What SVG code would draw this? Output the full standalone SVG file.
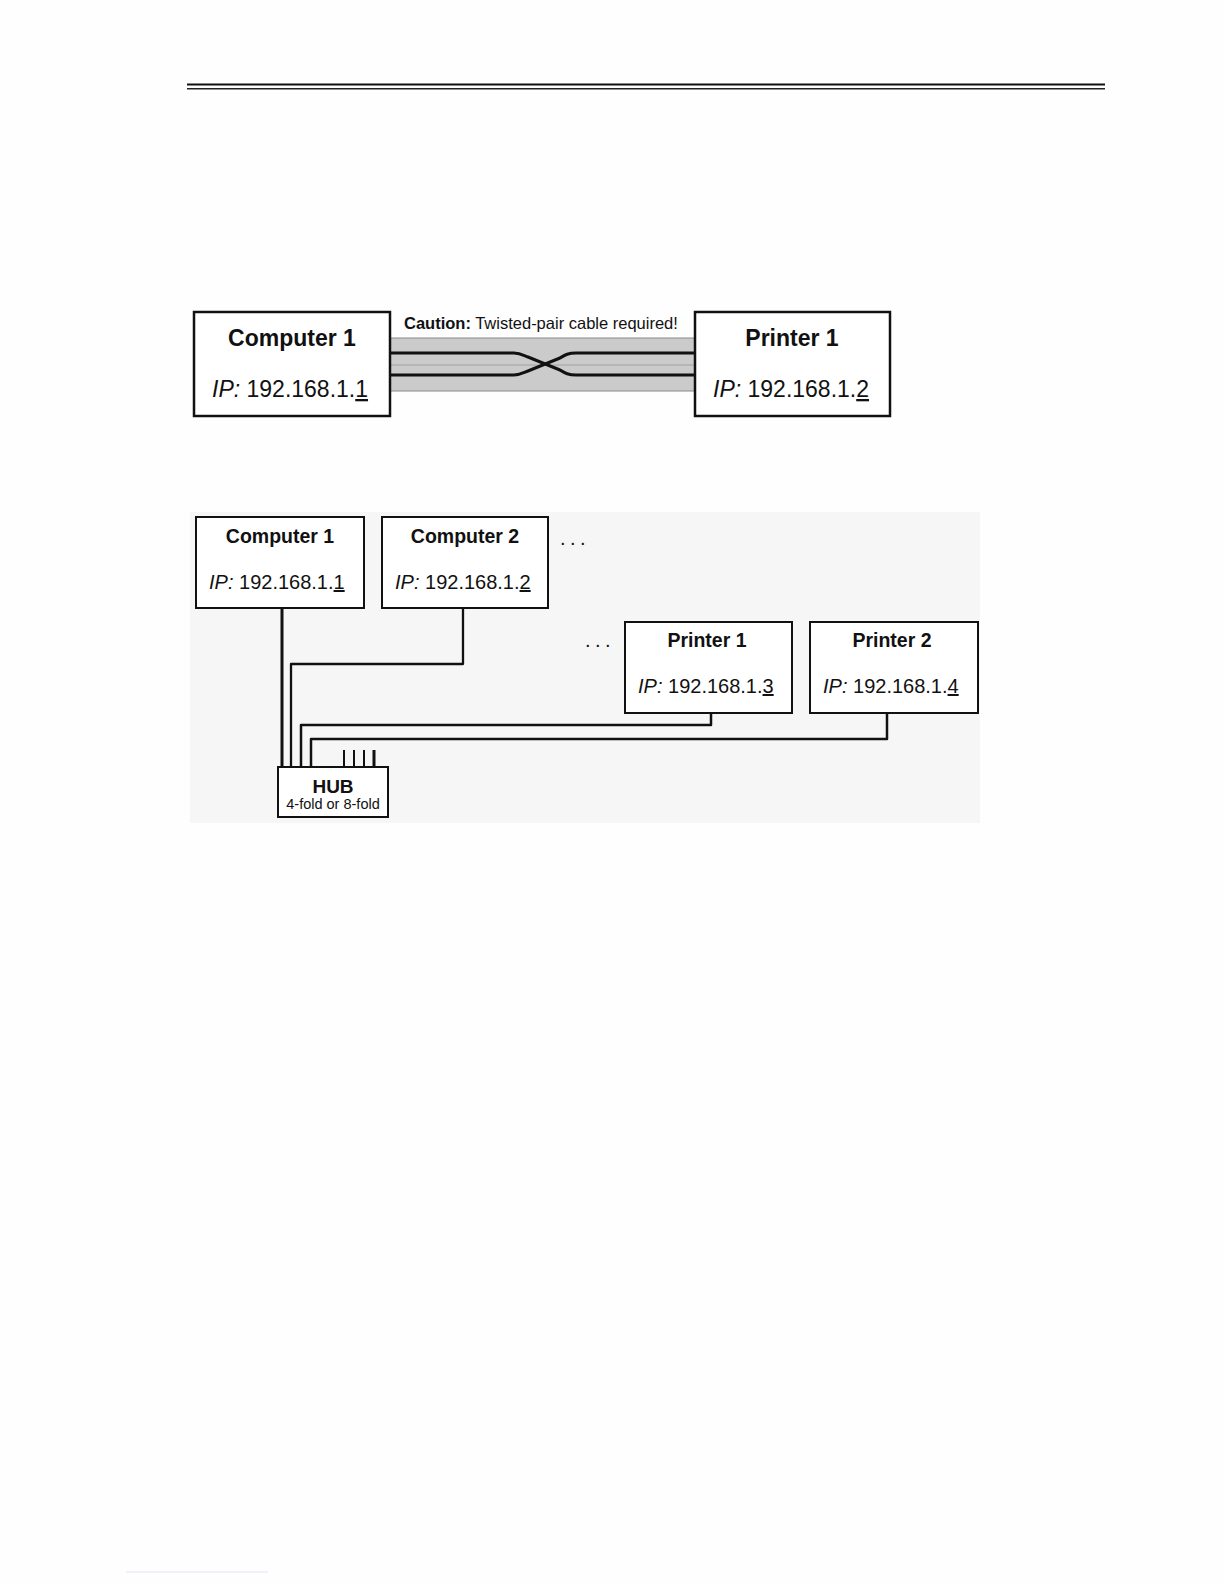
<svg xmlns="http://www.w3.org/2000/svg" width="1224" height="1584" viewBox="0 0 1224 1584">
<style>
.box{fill:#ffffff;stroke:#111;stroke-width:2.5}
.box2{fill:#ffffff;stroke:#111;stroke-width:2}
.t{font-family:"Liberation Sans",Arial,sans-serif;fill:#111}
.b{font-weight:bold}
.w{fill:none;stroke:#111;stroke-linejoin:round}
.u{text-decoration:underline}
</style>
<rect width="1224" height="1584" fill="#fefefe"/>
<g id="header">
<line x1="187" y1="84.5" x2="1105" y2="84.5" stroke="#111" stroke-width="2.2"/>
<line x1="187" y1="88.7" x2="1105" y2="88.7" stroke="#222" stroke-width="1.4"/>
</g>
<g id="footer-line">
<line x1="126" y1="1572" x2="268" y2="1572" stroke="#dfe4f2" stroke-width="1"/>
</g>

<!-- Top diagram -->
<g id="connectors-top">
<rect x="390" y="338" width="305" height="53" fill="#cbcbcb"/>
<line x1="390" y1="338" x2="695" y2="338" stroke="#8a8a8a" stroke-width="1.2"/>
<line x1="390" y1="365" x2="695" y2="365" stroke="#a0a0a0" stroke-width="1"/>
<line x1="390" y1="391" x2="695" y2="391" stroke="#8a8a8a" stroke-width="1.2"/>
<path class="w" stroke-width="3" d="M390 353 H514 C520 353 523 355 528 357 L560 370 C565 373 568 375 576 375 H695"/>
<path class="w" stroke-width="3" d="M390 375 H514 C520 375 523 373 528 371 L560 358 C565 355 568 353 576 353 H695"/>
<text class="t" x="404" y="329" font-size="16.5"><tspan class="b">Caution:</tspan> Twisted-pair cable required!</text>
</g>
<g id="top-computer1">
<rect class="box" x="194" y="312" width="196" height="104"/>
<text class="t b" x="292" y="346" font-size="23" text-anchor="middle">Computer 1</text>
<text class="t" x="212" y="397" font-size="23"><tspan font-style="italic">IP:</tspan> 192.168.1.<tspan class="u">1</tspan></text>
</g>
<g id="top-printer1">
<rect class="box" x="695" y="312" width="195" height="104"/>
<text class="t b" x="792" y="346" font-size="23" text-anchor="middle">Printer 1</text>
<text class="t" x="713" y="397" font-size="23"><tspan font-style="italic">IP:</tspan> 192.168.1.<tspan class="u">2</tspan></text>
</g>

<!-- Bottom diagram -->
<rect x="190" y="512" width="790" height="311" fill="#f6f6f6"/>
<g id="connectors">
<path class="w" stroke-width="3" d="M282 608 V767"/>
<path class="w" stroke-width="2.3" d="M463 608 V664 H291 V767"/>
<path class="w" stroke-width="2.5" d="M711 713 V725 H301 V767"/>
<path class="w" stroke-width="2.5" d="M887 713 V739 H311 V767"/>
<path class="w" stroke-width="2" d="M344 750 V767 M354 750 V767 M364 750 V767"/>
<path class="w" stroke-width="3" d="M374 750 V767"/>
</g>
<g id="computer1">
<rect class="box2" x="196" y="517" width="168" height="91"/>
<text class="t b" x="280" y="543" font-size="19.5" text-anchor="middle">Computer 1</text>
<text class="t" x="209" y="589" font-size="20"><tspan font-style="italic">IP:</tspan> 192.168.1.<tspan class="u">1</tspan></text>
</g>
<g id="computer2">
<rect class="box2" x="382" y="517" width="166" height="91"/>
<text class="t b" x="465" y="543" font-size="19.5" text-anchor="middle">Computer 2</text>
<text class="t" x="395" y="589" font-size="20"><tspan font-style="italic">IP:</tspan> 192.168.1.<tspan class="u">2</tspan></text>
</g>
<text class="t" x="560" y="545" font-size="20" letter-spacing="4.5">...</text>
<text class="t" x="585" y="647" font-size="20" letter-spacing="4.5">...</text>
<g id="printer1">
<rect class="box2" x="625" y="622" width="167" height="91"/>
<text class="t b" x="707" y="647" font-size="19.5" text-anchor="middle">Printer 1</text>
<text class="t" x="638" y="693" font-size="20"><tspan font-style="italic">IP:</tspan> 192.168.1.<tspan class="u">3</tspan></text>
</g>
<g id="printer2">
<rect class="box2" x="810" y="622" width="168" height="91"/>
<text class="t b" x="892" y="647" font-size="19.5" text-anchor="middle">Printer 2</text>
<text class="t" x="823" y="693" font-size="20"><tspan font-style="italic">IP:</tspan> 192.168.1.<tspan class="u">4</tspan></text>
</g>
<g id="hub">
<rect class="box2" x="278" y="767" width="110" height="50"/>
<text class="t b" x="333" y="793" font-size="19" text-anchor="middle">HUB</text>
<text class="t" x="333" y="809" font-size="14.5" text-anchor="middle">4-fold or 8-fold</text>
</g>
</svg>
